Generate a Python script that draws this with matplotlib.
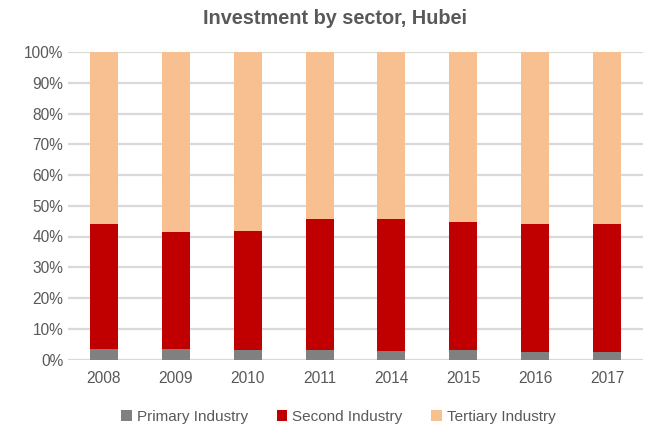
import matplotlib.pyplot as plt
import numpy as np

plt.rcParams['font.family'] = ['Liberation Sans', 'DejaVu Sans']

# Data (shares in %)
years = ['2008', '2009', '2010', '2011', '2014', '2015', '2016', '2017']
primary = [3.4, 3.4, 3.1, 3.1, 2.8, 3.1, 2.4, 2.4]
second_top = [44.1, 41.5, 41.9, 45.8, 45.8, 44.8, 44.1, 44.1]
second = [t - p for t, p in zip(second_top, primary)]
tertiary = [100 - t for t in second_top]

fig = plt.figure(figsize=(6.51, 4.25), dpi=100)
ax = fig.add_axes([68 / 651, 1 - 359.5 / 425, 575 / 651, 307.5 / 425])

x = np.arange(len(years))
w = 0.39
ax.bar(x, primary, w, color='#808080', label='Primary Industry', zorder=3)
ax.bar(x, second, w, bottom=primary, color='#c00000', label='Second Industry', zorder=3)
ax.bar(x, tertiary, w, bottom=second_top, color='#f8c090', label='Tertiary Industry', zorder=3)

ax.set_xlim(-0.5, len(years) - 0.5)
ax.set_ylim(0, 100)
ax.set_yticks(range(0, 101, 10))
ax.set_yticklabels([f'{v}%' for v in range(0, 101, 10)])
ax.set_xticks(x)
ax.set_xticklabels(years)
ax.tick_params(length=0, labelsize=11.2, colors='#595959')
ax.tick_params(axis='x', pad=8)
ax.yaxis.grid(True, color='#d9d9d9', linewidth=1.6, zorder=0)
for s in ax.spines.values():
    s.set_visible(False)

fig.text(335 / 651, 1 - 18 / 425, 'Investment by sector, Hubei', fontsize=14.3,
         fontweight='bold', color='#595959', ha='center', va='center')

ax.legend(loc='upper center', bbox_to_anchor=(0.47, -0.12), ncol=3, frameon=False,
          fontsize=11, labelcolor='#595959', handlelength=0.7, handleheight=0.7,
          handletextpad=0.3, columnspacing=1.9)

fig.savefig('out.png', dpi=100)
